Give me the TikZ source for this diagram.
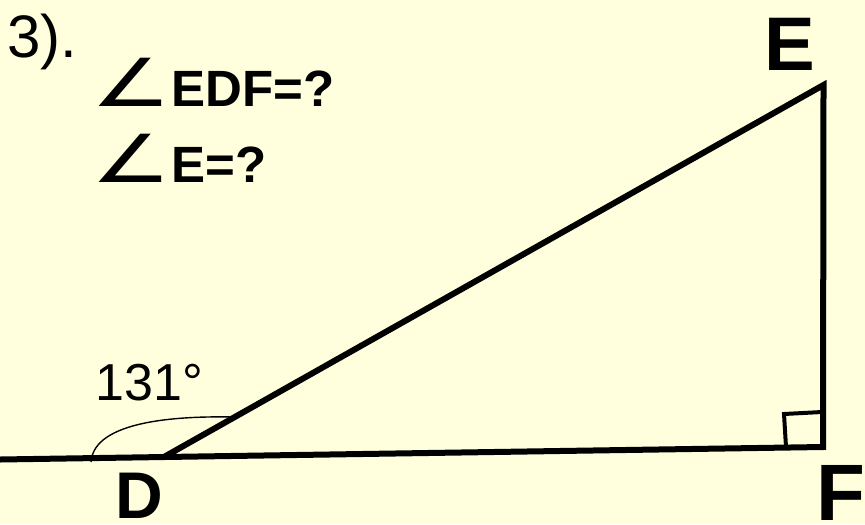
\documentclass[tikz,border=0pt]{standalone}
\usepackage{fontspec}
\setmainfont{Liberation Sans}
\newfontfamily\symfont{DejaVu Sans}
\usepackage{graphicx}
\definecolor{paper}{RGB}{255,255,221}
\newcommand{\angsym}{\scalebox{1.75}[1.3]{\symfont\mdseries ∠}}
\begin{document}
\begin{tikzpicture}[x=0.5pt,y=-0.5pt,
    edge/.style={line width=3pt},
    lbl/.style={anchor=base west,inner sep=0pt,font=\fontsize{#1}{#1}\selectfont},
    vlbl/.style={anchor=base west,inner sep=0pt,font=\fontsize{#1}{#1}\bfseries\selectfont}]
    \fill[paper] (0,0) rectangle (865,524);
    \useasboundingbox (0,0) rectangle (865,524);
    % triangle
    \coordinate (L) at (0,459.5);
    \coordinate (D) at (163,457.5);
    \coordinate (E) at (823.5,85);
    \coordinate (F) at (823,447);
    \draw[edge] (L)--(F)--(E)--(D);
    \draw[line width=2pt] (F) ++(-37,0) -- ++(-2,-33) -- ++(38,-2);
    % angle at D
    \coordinate (A1) at (91,462);
    \coordinate (A2) at (233,417);
    \draw[line width=0.7pt] (A1) .. controls (94,420) and (180,416) .. (A2);
    % labels
    \node[lbl=30] (num) at (7,58) {3).};
    \node[vlbl=25.5] (q1) at (91,106) {\angsym EDF=?};
    \node[vlbl=25.5] (q2) at (91,182) {\angsym E=?};
    \node[lbl=26] (deg) at (95,400) {131°};
    \node[vlbl=33] (nD) at (115,518) {D};
    \node[vlbl=38] (nE) at (764,70) {E};
    \node[vlbl=40] (nF) at (816,520) {F};
\end{tikzpicture}
\end{document}
